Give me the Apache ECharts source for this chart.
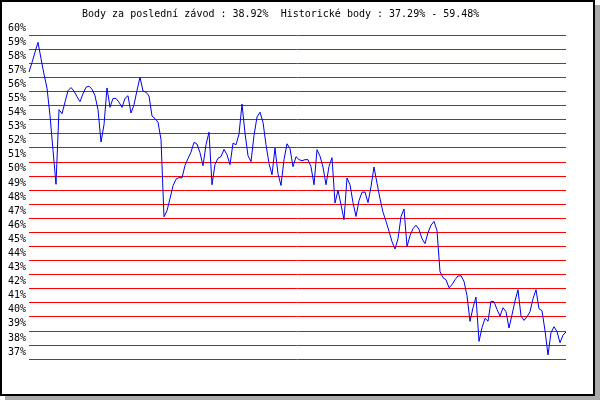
<!DOCTYPE html>
<html>
<head>
<meta charset="utf-8">
<script src="https://cdn.jsdelivr.net/npm/echarts@6/dist/echarts.min.js"></script>
<style>
html,body{margin:0;padding:0;background:#fff;}
#c{width:600px;height:400px;}
</style>
</head>
<body>
<div id="c"></div>
<script>
const titleText = "Body za poslední závod : 38.92%  Historické body : 37.29% - 59.48%";
const yMin = 37, yMax = 60, yStep = 1;
const points = [
57.37,58.05,58.77,59.48,58.32,57.22,56.23,54.28,51.82,49.40,
54.70,54.41,55.24,56.05,56.27,56.02,55.62,55.27,55.83,56.29,
56.37,56.15,55.69,54.70,52.40,53.63,56.24,54.87,55.50,55.50,
55.23,54.86,55.50,55.69,54.46,55.05,56.07,57.00,56.02,55.94,
55.67,54.25,54.07,53.81,52.57,47.10,47.53,48.39,49.30,49.76,
49.88,49.85,50.74,51.23,51.69,52.38,52.26,51.64,50.72,52.21,
53.10,49.37,50.81,51.25,51.37,51.88,51.50,50.79,52.32,52.21,
52.96,55.10,53.03,51.43,51.01,52.87,54.18,54.52,53.80,52.21,
50.88,50.08,51.98,50.15,49.32,51.15,52.28,51.93,50.65,51.36,
51.15,51.08,51.15,51.15,50.65,49.37,51.86,51.40,50.62,49.37,
50.67,51.29,48.07,48.98,47.95,46.89,49.85,49.37,48.10,47.12,
48.24,48.84,48.85,48.10,49.23,50.63,49.48,48.38,47.42,46.78,
46.07,45.33,44.81,45.54,47.10,47.65,44.99,45.75,46.25,46.50,
46.20,45.54,45.19,45.97,46.50,46.77,46.11,43.20,42.77,42.63,
42.06,42.27,42.63,42.89,42.91,42.51,41.49,39.67,40.64,41.40,
38.25,39.22,39.89,39.68,41.10,41.07,40.52,40.05,40.64,40.36,
39.20,40.14,41.12,41.92,40.05,39.74,40.00,40.36,41.28,41.92,
40.57,40.43,39.01,37.29,38.87,39.29,38.94,38.16,38.69,38.92
];
const races = points.map((_, i) => String(i + 1));

const font = '"DejaVu Sans Mono", "Liberation Mono", monospace';
const chart = echarts.init(document.getElementById('c'), null, {renderer: 'canvas'});
chart.setOption({
  animation: false,
  backgroundColor: '#ffffff',
  graphic: {
    elements: [
      {type: 'rect', z: -10, silent: true, shape: {x: 5, y: 5, width: 595, height: 395}, style: {fill: '#aaaaaa'}},
      {type: 'rect', z: -9, silent: true, shape: {x: 1, y: 1, width: 593, height: 394}, style: {fill: '#ffffff', stroke: '#000000', lineWidth: 2}}
    ]
  },
  title: {
    text: titleText,
    left: 82, top: 9,
    padding: 0,
    textStyle: {fontFamily: font, fontSize: 10, fontWeight: 'normal', color: '#000'}
  },
  grid: {left: 29, right: 34, top: 35, bottom: 41, containLabel: false},
  xAxis: {
    type: 'category', data: races, boundaryGap: false,
    axisLine: {show: false}, axisTick: {show: false}, axisLabel: {show: false}, splitLine: {show: false}
  },
  yAxis: {
    type: 'value', min: yMin, max: yMax, interval: yStep,
    axisLine: {show: false}, axisTick: {show: false},
    axisLabel: {
      formatter: '{value}%', fontFamily: font, fontSize: 10, color: '#000',
      margin: 3, verticalAlign: 'bottom', lineHeight: 10, padding: [0, 0, 2, 0]
    },
    splitLine: {show: true, lineStyle: {color: '#ff0000', width: 1, type: 'solid'}}
  },
  series: [{
    type: 'line', data: points, showSymbol: false, symbol: 'none',
    lineStyle: {color: '#0000ee', width: 1}, itemStyle: {color: '#0000ee'}
  }]
});
</script>
</body>
</html>
